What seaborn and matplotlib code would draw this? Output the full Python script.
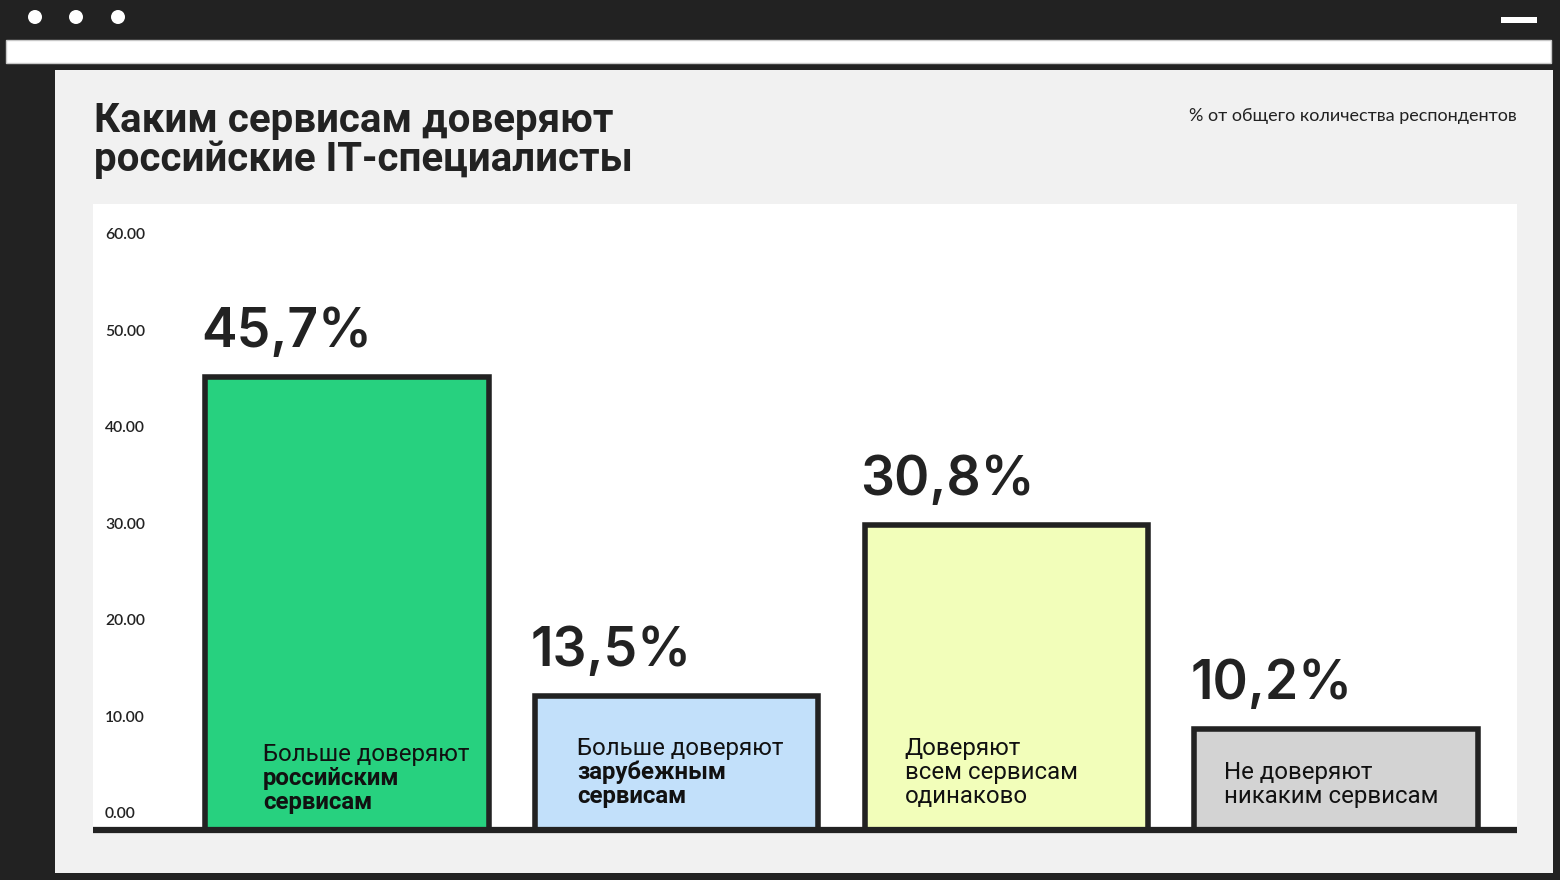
import numpy as np
import pandas as pd
import matplotlib
matplotlib.use("Agg")
import matplotlib.pyplot as plt
import seaborn as sns
from matplotlib.patches import Rectangle, Ellipse
from matplotlib.transforms import Affine2D

# ---------------- data ----------------
categories = ["Больше доверяют российским сервисам",
              "Больше доверяют зарубежным сервисам",
              "Доверяют всем сервисам одинаково",
              "Не доверяют никаким сервисам"]
values = [45.7, 13.5, 30.8, 10.2]
bar_colors = ["#27d17f", "#c2e0fa", "#f2feba", "#d3d3d3"]
label_lines = [
    [("Больше доверяют", "normal"), ("российским", "bold"), ("сервисам", "bold")],
    [("Больше доверяют", "normal"), ("зарубежным", "bold"), ("сервисам", "bold")],
    [("Доверяют", "normal"), ("всем сервисам", "normal"), ("одинаково", "normal")],
    [("Не доверяют", "normal"), ("никаким сервисам", "normal")],
]
yticks = [0, 10, 20, 30, 40, 50, 60]
title = "Каким сервисам доверяют\nроссийские IT-специалисты"
subtitle = "% от общего количества респондентов"

# ---------------- layout ----------------
W, H = 1560, 880
DARK = "#222222"
sns.set_theme(style="white")
plt.rcParams['font.family'] = ['Roboto', 'DejaVu Sans']

fig = plt.figure(figsize=(W / 100, H / 100), dpi=100)
fig.patch.set_facecolor(DARK)

def fx(x):
    return x / W

def fy(y):
    return 1 - y / H

def rect(x0, y0, x1, y1, **kw):
    fig.patches.append(Rectangle((fx(x0), fy(y1)), fx(x1) - fx(x0), fy(y0) - fy(y1),
                                 transform=fig.transFigure, zorder=-5, **kw))

# window chrome
for cx in (35, 76, 118):
    fig.patches.append(Ellipse((fx(cx), fy(17)), 14 / W, 14 / H, transform=fig.transFigure,
                               facecolor="white", edgecolor="none", zorder=-5))
rect(1501, 17, 1537, 23, facecolor="white", edgecolor="none")
rect(6, 40, 1551, 63, facecolor="white", edgecolor="#c8c8c8", linewidth=1)
rect(55, 70, 1553, 873, facecolor="#f1f1f1", edgecolor="none")

# titles
fig.text(fx(94), fy(102), title, ha="left", va="top", fontsize=29,
         fontweight="bold", color=DARK, linespacing=1.03, family=['Roboto', 'DejaVu Sans'])
fig.text(fx(1517), fy(116), subtitle, ha="right", va="center", fontsize=13,
         color=DARK, family=['Lato', 'DejaVu Sans'])

# chart axes
ax_left, ax_right, ax_top, ax_bottom = 93, 1517, 204, 830
ax = fig.add_axes([fx(ax_left), fy(ax_bottom), fx(ax_right) - fx(ax_left), fy(ax_top) - fy(ax_bottom)])
ax.set_zorder(5)
ax.set_facecolor("white")

df = pd.DataFrame({"cat": categories, "val": values})
bar_w = 0.86
sns.barplot(data=df, x="cat", y="val", hue="cat", order=categories, hue_order=categories,
            palette=bar_colors, width=bar_w, edgecolor=DARK, linewidth=4.0,
            saturation=1, legend=False, ax=ax)

ax.set_xlim(-0.770, 3.549)
ax.set_ylim(0, 63.2)
for s in ax.spines.values():
    s.set_visible(False)
ax.set_xlabel("")
ax.set_ylabel("")
ax.set_xticks([])
ax.set_yticks(yticks)
ax.set_yticklabels([f"{t:.2f}" for t in yticks])
ax.tick_params(axis="y", length=0, pad=-8.6, labelsize=11.3, labelcolor=DARK)
# tick labels sit slightly above their gridline positions, a bit tighter spaced
label_shift = Affine2D().scale(1, 0.9747).translate(0, 18.3)
for lab in ax.get_yticklabels():
    lab.set_horizontalalignment("left")
    lab.set_fontfamily(['Lato', 'DejaVu Sans'])
    lab.set_fontweight("semibold")
    lab.set_transform(lab.get_transform() + label_shift)

# baseline
ax.axhline(0, color=DARK, linewidth=4.5, clip_on=False, zorder=5, solid_capstyle="butt")

# value labels
for i, v in enumerate(values):
    ax.annotate(f"{v:.1f}".replace(".", ",") + "%", xy=(i - bar_w / 2, v),
                xytext=(-4, 30), textcoords="offset pixels", ha="left", va="baseline",
                fontsize=38.5, fontweight="semibold", color=DARK,
                family=['Inter', 'DejaVu Sans'])

# category labels inside bars
x_offsets = [58, 42, 40, 30]
bottom_offsets = [28, 34, 34, 34]
line_step = 24
for i, lines in enumerate(label_lines):
    n = len(lines)
    for j, (txt, wt) in enumerate(lines):
        ax.annotate(txt, xy=(i - bar_w / 2, 0),
                    xytext=(x_offsets[i], bottom_offsets[i] + (n - 1 - j) * line_step),
                    textcoords="offset pixels", ha="left", va="center",
                    fontsize=17.3, fontweight=wt, color="#111111", zorder=6)

fig.savefig("out.png", dpi=100, facecolor=fig.get_facecolor())
